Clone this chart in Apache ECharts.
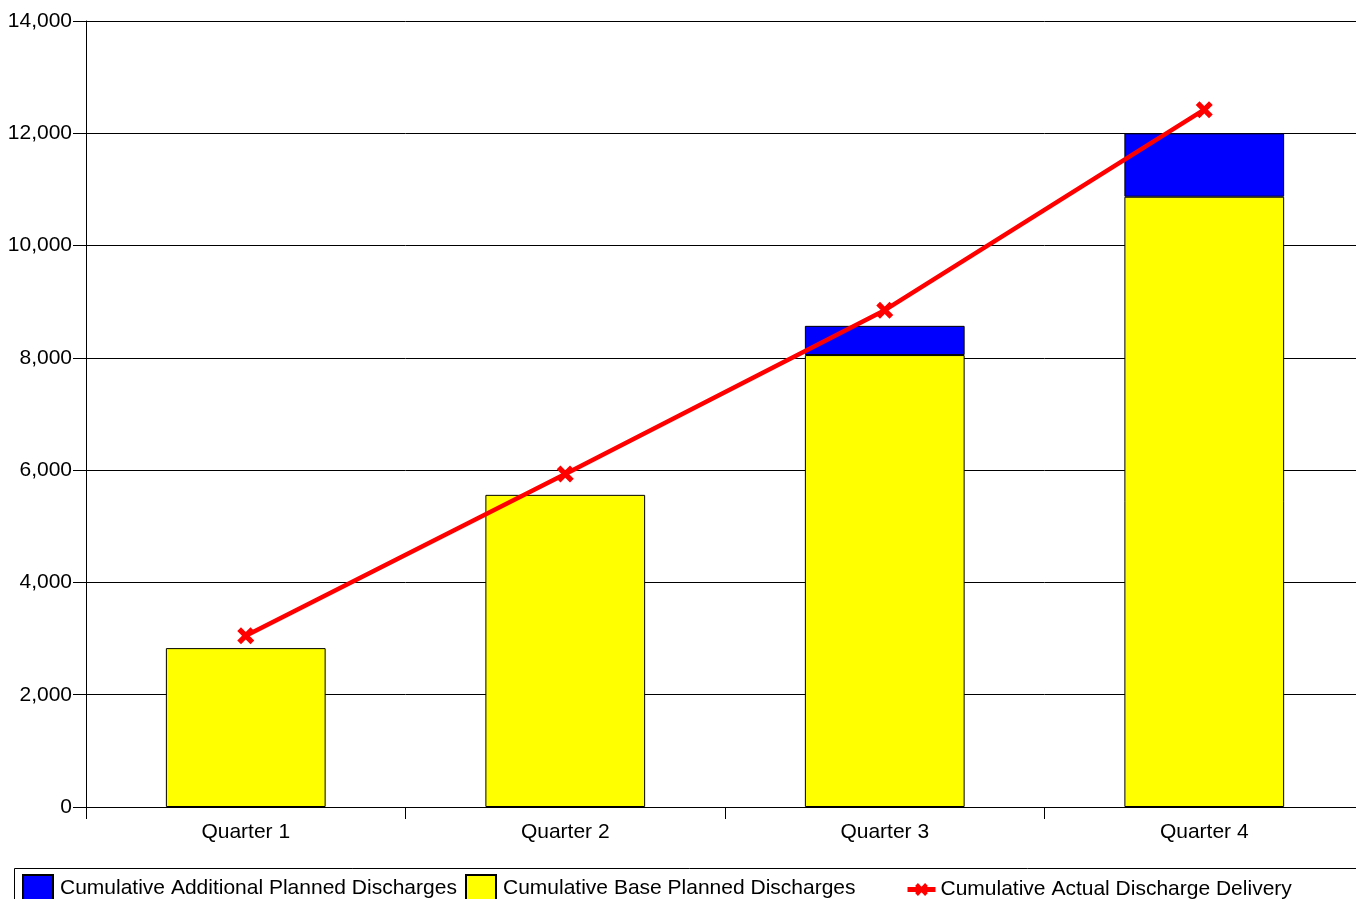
<!DOCTYPE html>
<html>
<head>
<meta charset="utf-8">
<script src="https://cdn.jsdelivr.net/npm/echarts@6/dist/echarts.min.js"></script>
<style>
html,body{margin:0;padding:0;background:#fff;overflow:hidden;width:1356px;height:899px;}
#chart{width:1364px;height:899px;}
</style>
</head>
<body>
<div id="chart"></div>
<script>
const categories = ['Quarter 1', 'Quarter 2', 'Quarter 3', 'Quarter 4'];
const additionalPlanned = [null, null, 520, 1130];
const basePlanned = [2830, 5560, 8050, 10870];
const actualDelivery = [3050, 5930, 8850, 12420];
const yTicks = { min: 0, max: 14000, interval: 2000 };

const FONT = '"Liberation Sans", Arial, Helvetica, sans-serif';
const XSYM = 'path://M2.2,0 L5,2.8 L7.8,0 L10,2.2 L7.2,5 L10,7.8 L7.8,10 L5,7.2 L2.2,10 L0,7.8 L2.8,5 L0,2.2 Z';

const chart = echarts.init(document.getElementById('chart'), null, { renderer: 'canvas' });

function legendAt(left, name, icon) {
  return {
    data: [{ name: name, icon: icon }],
    left: left,
    top: 874,
    padding: 0,
    itemWidth: 30,
    itemHeight: 26,
    itemGap: 0,
    textStyle: { fontFamily: FONT, fontSize: 21, color: '#000', padding: [0, 0, 0, 2] },
    selectedMode: false
  };
}

chart.setOption({
  animation: false,
  backgroundColor: '#fff',
  grid: { left: 86, right: 0, top: 21, bottom: 92, containLabel: false },
  legend: [
    legendAt(22, 'Cumulative Additional Planned Discharges', 'rect'),
    legendAt(465, 'Cumulative Base Planned Discharges', 'rect'),
    Object.assign(legendAt(905, 'Cumulative Actual Discharge Delivery', undefined),
      { itemWidth: 28, itemHeight: 16, top: 879, lineStyle: { width: 5 },
        textStyle: { fontFamily: FONT, fontSize: 21, color: '#000', padding: [0, 0, 0, 0] } })
  ],
  graphic: [{
    type: 'rect',
    shape: { x: 14.5, y: 868.5, width: 1400, height: 60 },
    style: { fill: 'none', stroke: '#000', lineWidth: 1 },
    silent: true
  }],
  xAxis: {
    type: 'category',
    data: categories,
    boundaryGap: true,
    axisLine: { show: true, lineStyle: { color: '#000', width: 1 } },
    axisTick: { show: true, length: 12, inside: false, lineStyle: { color: '#000' } },
    axisLabel: { fontFamily: FONT, fontSize: 21, color: '#000', margin: 15 },
    splitLine: { show: false }
  },
  yAxis: {
    type: 'value',
    min: yTicks.min,
    max: yTicks.max,
    interval: yTicks.interval,
    axisLine: { show: true, lineStyle: { color: '#000', width: 1 } },
    axisTick: { show: true, length: 13, lineStyle: { color: '#000' } },
    axisLabel: {
      fontFamily: FONT, fontSize: 21, color: '#000', margin: 14,
      formatter: v => v.toLocaleString('en-US')
    },
    splitLine: { show: true, lineStyle: { color: '#000', width: 1 } }
  },
  series: [
    {
      name: 'Cumulative Base Planned Discharges',
      type: 'bar',
      stack: 'planned',
      data: basePlanned,
      barWidth: '50%',
      itemStyle: { color: '#FFFF00', borderColor: '#000', borderWidth: 1 }
    },
    {
      name: 'Cumulative Additional Planned Discharges',
      type: 'bar',
      stack: 'planned',
      data: additionalPlanned,
      barWidth: '50%',
      itemStyle: { color: '#0000FF', borderColor: '#000', borderWidth: 1 }
    },
    {
      name: 'Cumulative Actual Discharge Delivery',
      type: 'line',
      data: actualDelivery,
      symbol: XSYM,
      symbolSize: 17,
      lineStyle: { color: '#FF0000', width: 4.5 },
      itemStyle: { color: '#FF0000' },
      z: 5
    }
  ]
});
</script>
</body>
</html>
